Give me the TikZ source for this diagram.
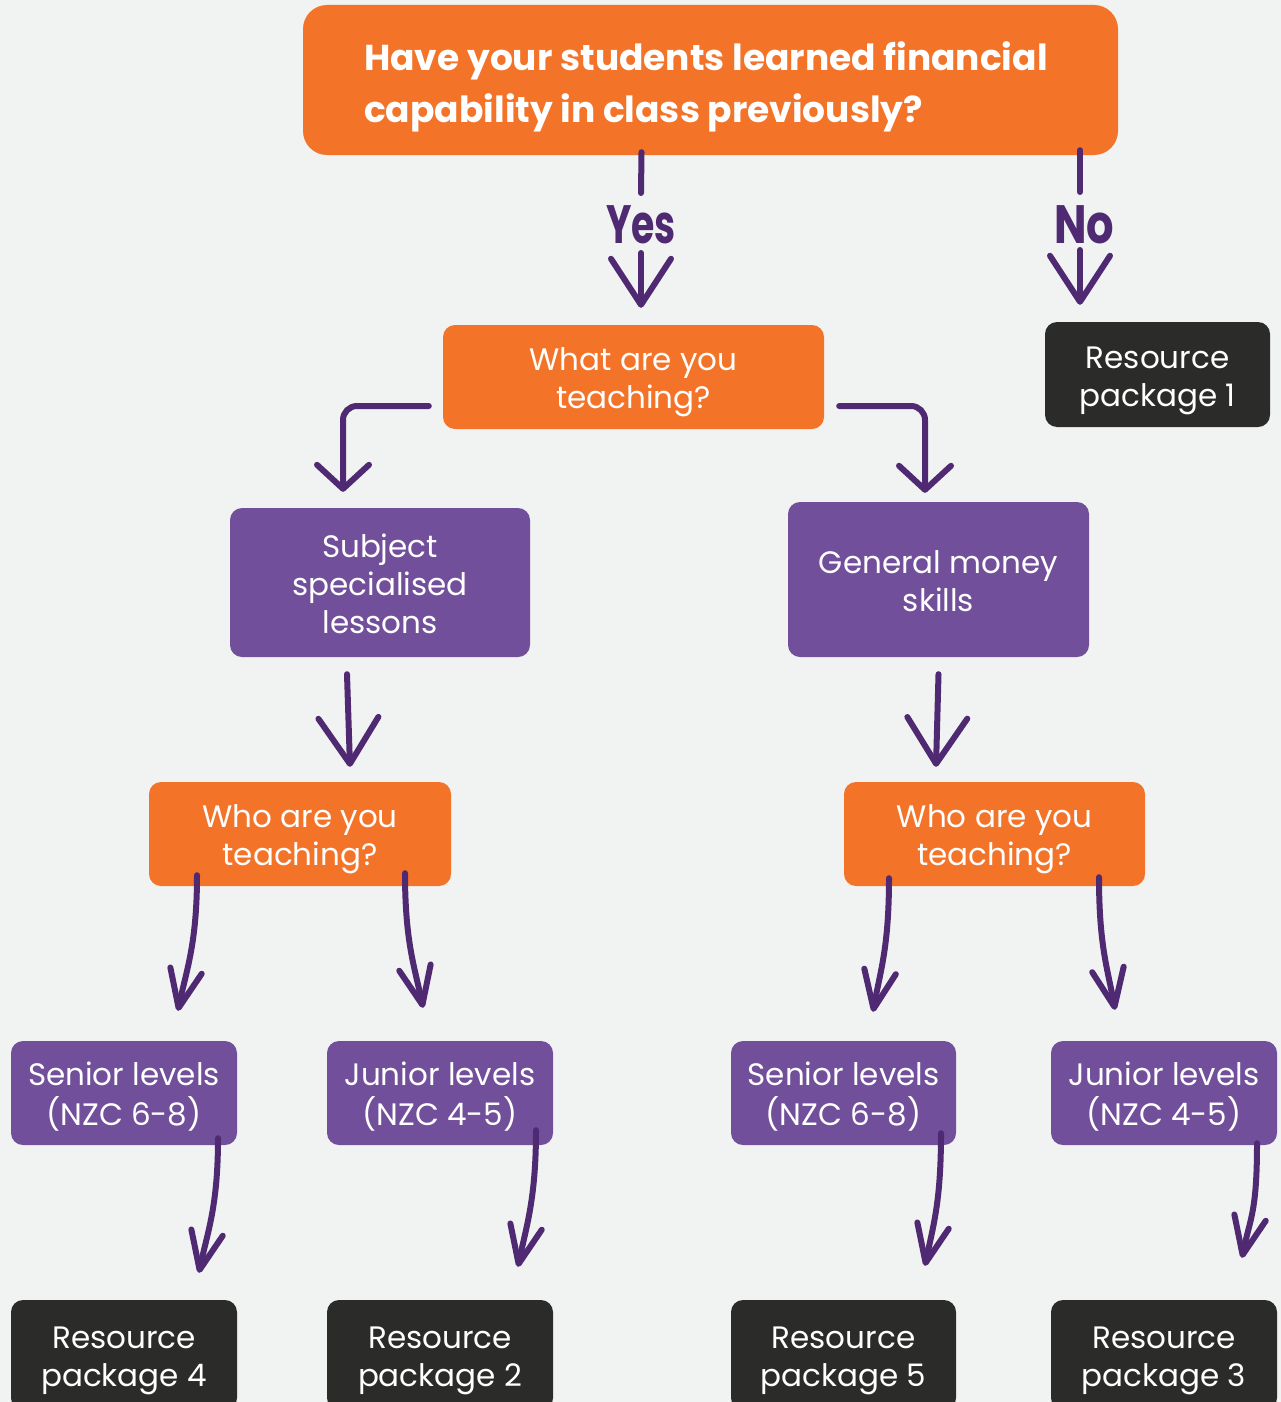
\documentclass[tikz,border=0pt]{standalone}
\usepackage{fontspec}
\setmainfont{Poppins}
\usetikzlibrary{arrows.meta,calc}
\definecolor{bg}{HTML}{F1F3F2}
\definecolor{org}{HTML}{F37329}
\definecolor{pur}{HTML}{714F9A}
\definecolor{drk}{HTML}{2B2B2A}
\definecolor{arc}{HTML}{4F2A73}
\newcommand\tb[1]{\raisebox{0pt}[\dimexpr\height+10pt\relax][\depth]{\begin{tabular}{@{}c@{}}#1\end{tabular}}}
\begin{document}
\begin{tikzpicture}[x=1pt,y=-1pt,
  box/.style={rounded corners=12pt, inner sep=0pt, text=white,
    font=\fontsize{31}{38}\selectfont},
  obox/.style={box, fill=org},
  pbox/.style={box, fill=pur},
  dbox/.style={box, fill=drk},
  yn/.style={inner sep=0pt, text=arc, font=\fontsize{54}{54}\selectfont\bfseries},
  stem/.style={draw=arc, line width=6pt, line cap=round},
  bigarr/.style={stem, -{Straight Barb[length=46pt,width=60pt,round]}},
  midarr/.style={stem, rounded corners=14pt, -{Straight Barb[length=24pt,width=52pt,round]}},
  curarr/.style={stem, -{Straight Barb[length=38pt,width=32pt,round]}}
]
\useasboundingbox[fill=bg] (0,0) rectangle (1281,1402);

% nodes
\node[obox, rounded corners=24pt, minimum width=815pt, minimum height=150pt] (top) at (710.5,80) {};
\node[anchor=west, align=left, inner sep=0pt, text=white,
  font=\fontsize{36}{52}\selectfont\bfseries] (title) at (364,87)
  {Have your students learned financial\\capability in class previously?};
\node[yn] (yes) at (641,225) {\scalebox{0.7}[1]{Yes}};
\node[yn] (no) at (1084,225) {\scalebox{0.8}[1]{No}};
\node[obox, minimum width=381pt, minimum height=104pt] (what) at (633.5,377) {\tb{What are you\\teaching?}};
\node[dbox, minimum width=225pt, minimum height=105pt] (rp1) at (1157.5,374.5) {\tb{Resource\\package 1}};
\node[pbox, minimum width=300pt, minimum height=149pt] (subj) at (380,582.5) {\tb{Subject\\specialised\\lessons}};
\node[pbox, minimum width=301pt, minimum height=155pt] (gen) at (938.5,579.5) {\tb{General money\\skills}};
\node[obox, minimum width=302pt, minimum height=104pt] (whoL) at (300,834) {\tb{Who are you\\teaching?}};
\node[obox, minimum width=301pt, minimum height=104pt] (whoR) at (994.5,834) {\tb{Who are you\\teaching?}};
\node[pbox, minimum width=226pt, minimum height=104pt] (senL) at (124,1093) {\tb{Senior levels\\(NZC 6-8)}};
\node[pbox, minimum width=226pt, minimum height=104pt] (junL) at (440,1093) {\tb{Junior levels\\(NZC 4-5)}};
\node[pbox, minimum width=225pt, minimum height=104pt] (senR) at (843.5,1093) {\tb{Senior levels\\(NZC 6-8)}};
\node[pbox, minimum width=226pt, minimum height=104pt] (junR) at (1164,1093) {\tb{Junior levels\\(NZC 4-5)}};
\node[dbox, minimum width=226pt, minimum height=110pt] (rp4) at (124,1355) {\tb{Resource\\package 4}};
\node[dbox, minimum width=226pt, minimum height=110pt] (rp2) at (440,1355) {\tb{Resource\\package 2}};
\node[dbox, minimum width=225pt, minimum height=110pt] (rp5) at (843.5,1355) {\tb{Resource\\package 5}};
\node[dbox, minimum width=226pt, minimum height=110pt] (rp3) at (1164,1355) {\tb{Resource\\package 3}};

% connectors
\draw[stem] ($(top.south)+(-69,-3)$) -- ($(yes.center)+(0,-32)$);
\draw[bigarr] ($(yes.center)+(0,28)$) -- ($(what.north)+(7.5,-17)$);
\draw[stem] ($(top.south)+(369.5,-5)$) -- ($(no.center)+(-4,-33)$);
\draw[bigarr] ($(no.center)+(-4,25)$) -- ($(rp1.north)+(-77.5,-17)$);

\draw[midarr] ($(what.west)+(-14,29)$) -| ($(subj.north)+(-37,-16)$);
\draw[midarr] ($(what.east)+(15,29)$) -| ($(gen.north)+(-13.5,-9)$);

\draw[bigarr] ($(subj.south)+(-33,17)$) -- ($(whoL.north)+(50,-15)$);
\draw[bigarr] ($(gen.south)+(0,17)$) -- ($(whoR.north)+(-58.5,-15)$);

\draw[curarr] ($(whoL.south)+(-103,-11)$) .. controls +(0,70) and +(8,-40) .. ($(senL.north)+(54,-30)$);
\draw[curarr] ($(whoL.south)+(105,-13)$) .. controls +(0,70) and +(-8,-40) .. ($(junL.north)+(-17,-33)$);
\draw[curarr] ($(whoR.south)+(-105.5,-8)$) .. controls +(0,70) and +(7,-40) .. ($(senR.north)+(29.5,-29)$);
\draw[curarr] ($(whoR.south)+(104.5,-9)$) .. controls +(0,70) and +(-7,-40) .. ($(junR.north)+(-49,-31)$);

\draw[curarr] ($(senL.south)+(94,-7)$) .. controls +(0,70) and +(8,-40) .. ($(rp4.north)+(75,-27)$);
\draw[curarr] ($(junL.south)+(96,-15)$) .. controls +(0,70) and +(8,-40) .. ($(rp2.north)+(78,-33)$);
\draw[curarr] ($(senR.south)+(97.5,-12)$) .. controls +(0,70) and +(8,-40) .. ($(rp5.north)+(81.5,-34)$);
\draw[curarr] ($(junR.south)+(93,-2)$) .. controls +(0,70) and +(8,-40) .. ($(rp3.north)+(78,-42)$);
\end{tikzpicture}
\end{document}
